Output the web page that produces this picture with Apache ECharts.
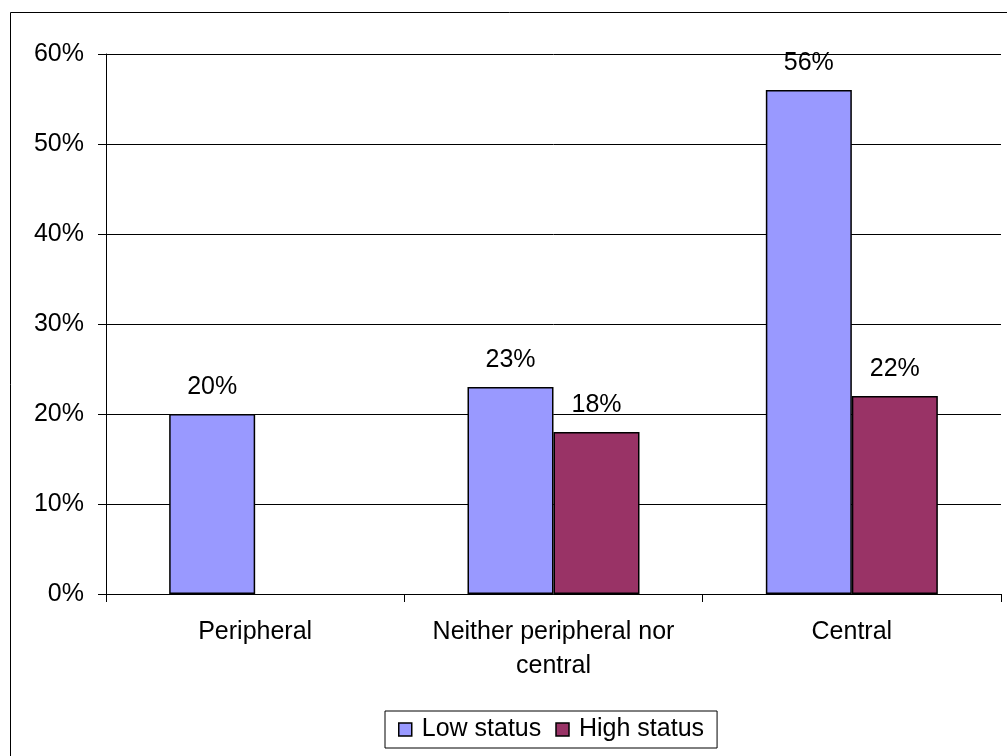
<!DOCTYPE html>
<html><head><meta charset="utf-8">
<script src="https://cdn.jsdelivr.net/npm/echarts@6/dist/echarts.min.js"></script>
<style>html,body{margin:0;padding:0;background:#fff}#c{width:1007px;height:756px}</style>
</head><body><div id="c"></div>
<script>
const categories = ['Peripheral', 'Neither peripheral nor\ncentral', 'Central'];
const lowStatus = [20, 23, 56];
const highStatus = [null, 18, 22];
const seriesNames = ['Low status', 'High status'];
const yTicks = [0, 10, 20, 30, 40, 50, 60];

const chart = echarts.init(document.getElementById('c'), null, {renderer: 'canvas'});
const font = 'Liberation Sans, Arial, sans-serif';
const labelCfg = {show: true, position: 'top', distance: 14, color: '#000', fontSize: 25, fontFamily: font, formatter: p => p.value + '%'};
chart.setOption({
  animation: false,
  graphic: [{type: 'rect', shape: {x: 10.5, y: 12.5, width: 1010, height: 760}, style: {fill: 'none', stroke: '#000', lineWidth: 1}, silent: true}],
  grid: {left: 106, right: 6, top: 54, bottom: 162, containLabel: false},
  legend: {
    data: seriesNames, bottom: 8, left: 385,
    borderColor: '#000', borderWidth: 1, padding: [6, 13, 6, 13],
    itemWidth: 13, itemHeight: 13, itemGap: 14,
    textStyle: {fontSize: 25, fontFamily: font, color: '#000', padding: [0, 0, 0, 5]},
    itemStyle: {borderColor: '#000', borderWidth: 1.5},
    icon: 'rect'
  },
  xAxis: {
    type: 'category', data: categories,
    axisLine: {lineStyle: {color: '#000', width: 1}},
    axisTick: {show: true, length: 8, inside: false, lineStyle: {color: '#000'}},
    axisLabel: {fontSize: 25, fontFamily: font, color: '#000', margin: 21, lineHeight: 34, interval: 0}
  },
  yAxis: {
    type: 'value', min: 0, max: 60, interval: 10,
    axisLine: {show: true, lineStyle: {color: '#000', width: 1}},
    axisTick: {show: true, length: 8, lineStyle: {color: '#000'}},
    axisLabel: {fontSize: 25, fontFamily: font, color: '#000', margin: 22, formatter: v => v + '%'},
    splitLine: {show: true, lineStyle: {color: '#000', width: 1}}
  },
  series: [
    {name: seriesNames[0], type: 'bar', data: lowStatus, barWidth: 86, barGap: '0%',
     itemStyle: {color: '#9999FF', borderColor: '#000', borderWidth: 1.5}, label: labelCfg},
    {name: seriesNames[1], type: 'bar', data: highStatus, barWidth: 86, barGap: '0%',
     itemStyle: {color: '#993366', borderColor: '#000', borderWidth: 1.5}, label: labelCfg}
  ]
});
</script></body></html>
